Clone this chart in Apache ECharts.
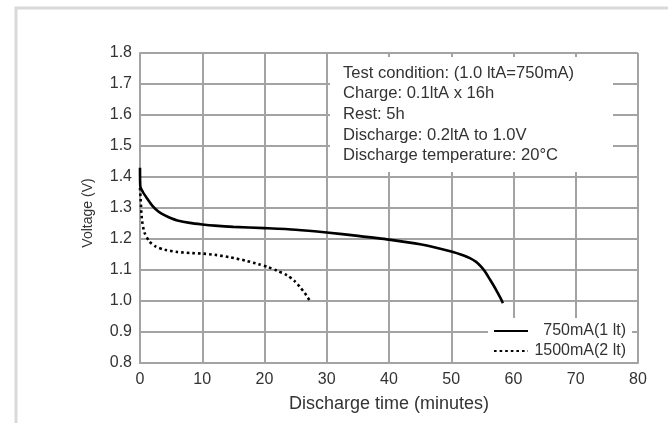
<!DOCTYPE html>
<html>
<head>
<meta charset="utf-8">
<script src="https://cdn.jsdelivr.net/npm/echarts@6/dist/echarts.min.js"></script>
<style>
html,body{margin:0;padding:0;background:#fff;}
#chart{width:668px;height:423px;}
</style>
</head>
<body>
<div id="chart"></div>
<script>
// ---- data ----
const seriesNames = ['750mA(1 lt)', '1500mA(2 lt)'];
// [minutes, volts]
const discharge750 = [
  [0, 1.43], [0.05, 1.37], [0.5, 1.35], [1, 1.335], [2, 1.307], [3, 1.288],
  [4, 1.276], [5, 1.267], [6, 1.26], [8, 1.252], [10, 1.247], [12, 1.243],
  [15, 1.239], [20, 1.235], [25, 1.23], [30, 1.221], [35, 1.21], [40, 1.198],
  [45, 1.183], [50, 1.16], [52, 1.147], [53, 1.138], [54, 1.126], [54.5, 1.117],
  [55, 1.106], [55.5, 1.093], [56.2, 1.07], [56.8, 1.05], [57.4, 1.029],
  [57.9, 1.01], [58.3, 0.993]
];
const discharge1500 = [
  [0, 1.365], [0.1, 1.33], [0.3, 1.265], [0.7, 1.222], [1.5, 1.192], [2.5, 1.176],
  [4, 1.165], [6, 1.158], [8, 1.155], [10, 1.153], [12, 1.149], [14.5, 1.141],
  [17, 1.13], [19, 1.119], [20.5, 1.11], [22, 1.098], [23.6, 1.083], [24.8, 1.065],
  [25.7, 1.045], [26.5, 1.025], [27.2, 1.003]
];
const xTicks = [0, 10, 20, 30, 40, 50, 60, 70, 80];
const yTicks = [0.8, 0.9, 1.0, 1.1, 1.2, 1.3, 1.4, 1.5, 1.6, 1.7, 1.8];
const noteLines = [
  'Test condition: (1.0 ltA=750mA)',
  'Charge: 0.1ltA x 16h',
  'Rest: 5h',
  'Discharge: 0.2ltA to 1.0V',
  'Discharge temperature: 20°C'
];
const xAxisTitle = 'Discharge time (minutes)';
const yAxisTitle = 'Voltage (V)';

// ---- chart ----
const FONT = '"Liberation Sans", Arial, sans-serif';
const GRID = '#a3a3a3';
const TXT = '#333333';
const chart = echarts.init(document.getElementById('chart'), null, {renderer: 'canvas'});

chart.setOption({
  animation: false,
  backgroundColor: '#ffffff',
  textStyle: {fontFamily: FONT},
  grid: {left: 140, right: 30, top: 53, bottom: 60, containLabel: false},
  xAxis: {
    type: 'value',
    min: xTicks[0], max: xTicks[xTicks.length - 1], interval: 10,
    name: xAxisTitle, nameLocation: 'middle', nameGap: 32,
    nameTextStyle: {fontSize: 18, color: TXT, fontFamily: FONT},
    axisLine: {show: true, lineStyle: {color: GRID, width: 2}},
    axisTick: {show: false},
    axisLabel: {fontSize: 16, color: TXT, margin: 9, fontFamily: FONT},
    splitLine: {show: true, lineStyle: {color: GRID, width: 2}}
  },
  yAxis: {
    type: 'value',
    min: yTicks[0], max: yTicks[yTicks.length - 1], interval: 0.1,
    name: yAxisTitle, nameLocation: 'middle', nameGap: 45, nameRotate: 90,
    nameTextStyle: {fontSize: 14, color: TXT, fontFamily: FONT, padding: [0, 10, 0, 0]},
    axisLine: {show: true, lineStyle: {color: GRID, width: 2}},
    axisTick: {show: false},
    axisLabel: {fontSize: 16, color: TXT, margin: 8, fontFamily: FONT,
      formatter: v => v.toFixed(1)},
    splitLine: {show: true, lineStyle: {color: GRID, width: 2}}
  },
  legend: {
    orient: 'vertical',
    left: 488, top: 318,
    padding: [5, 6, 3, 5],
    itemWidth: 34, itemHeight: 10, itemGap: 4,
    backgroundColor: '#ffffff',
    itemStyle: {opacity: 0},
    formatter: name => '{r|' + name + '}',
    textStyle: {fontSize: 16, color: TXT, fontFamily: FONT,
      rich: {r: {width: 93, align: 'right', fontSize: 16, color: TXT, fontFamily: FONT}}},
    data: seriesNames
  },
  graphic: [
    {
      type: 'polyline', z: 100, silent: true,
      shape: {points: [[16, 423], [16, 8], [668, 8]]},
      style: {stroke: '#d9d9d9', lineWidth: 3, fill: null}
    },
    {
      type: 'rect', z: 100, silent: true,
      shape: {x: 330, y: 57, width: 283, height: 115},
      style: {fill: '#ffffff'}
    },
    {
      type: 'text', z: 101, silent: true,
      x: 343, y: 63,
      style: {
        text: noteLines.join('\n'),
        font: '16.6px ' + FONT,
        fill: TXT,
        lineHeight: 20.6
      }
    }
  ],
  series: [
    {
      name: seriesNames[0], type: 'line', data: discharge750,
      showSymbol: false, symbol: 'none', smooth: 0.25,
      lineStyle: {color: '#000', width: 2.6}, itemStyle: {color: '#000'}, z: 3
    },
    {
      name: seriesNames[1], type: 'line', data: discharge1500,
      showSymbol: false, symbol: 'none', smooth: 0.25,
      lineStyle: {color: '#000', width: 2.6, type: [2.6, 3]}, itemStyle: {color: '#000'}, z: 3
    }
  ]
});
</script>
</body>
</html>
